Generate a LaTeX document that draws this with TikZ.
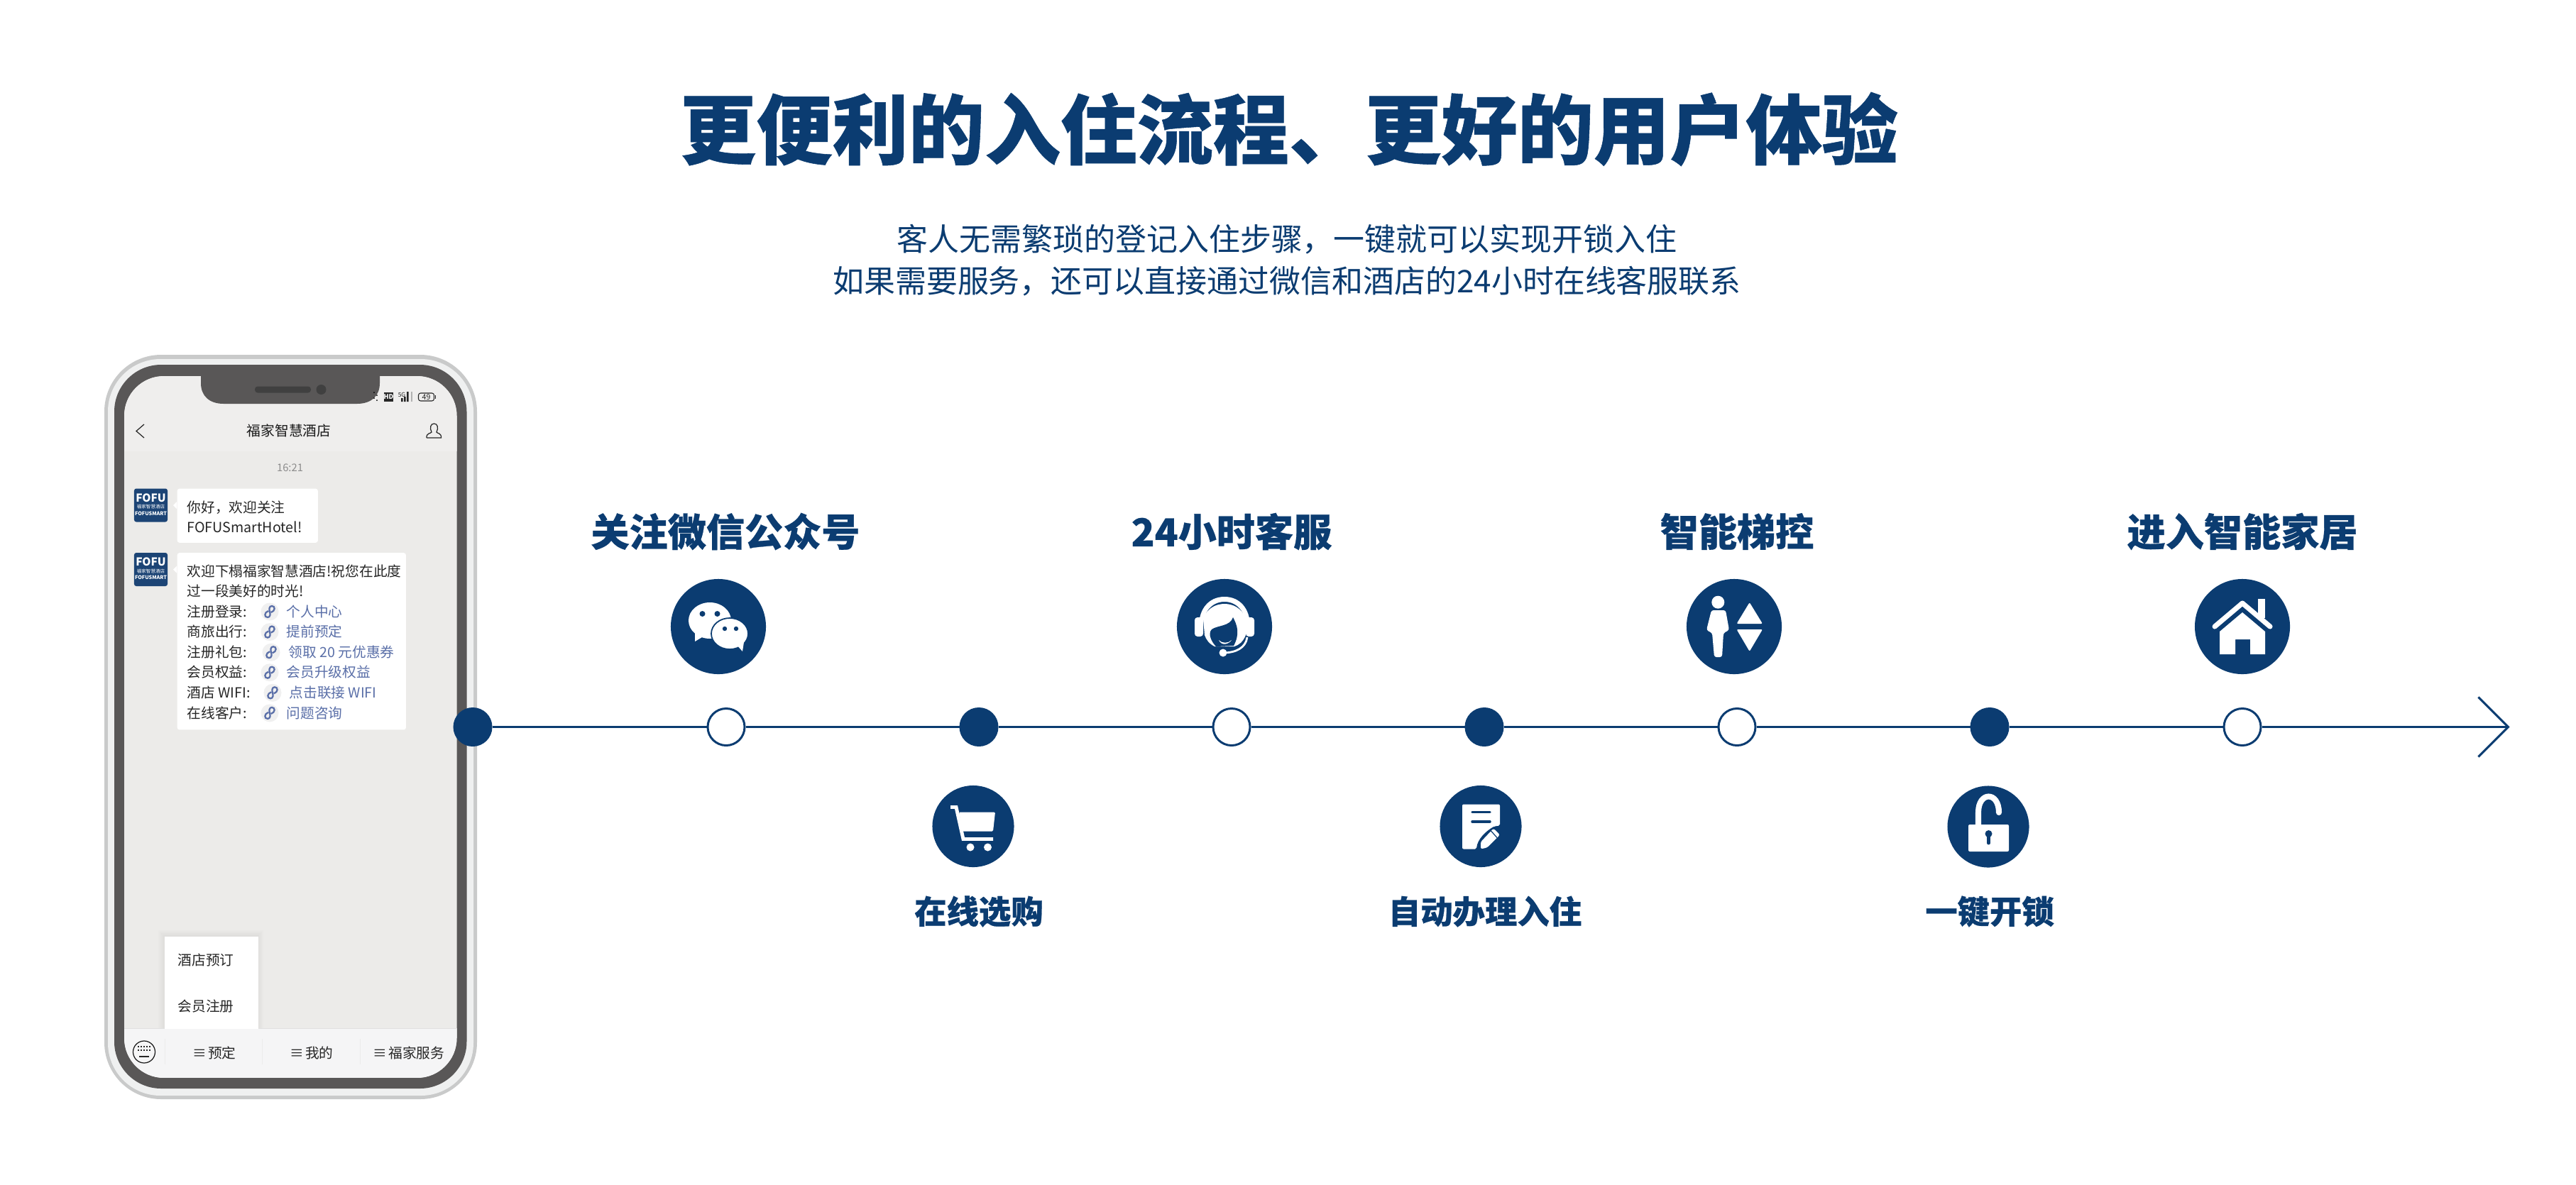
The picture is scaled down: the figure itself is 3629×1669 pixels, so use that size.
\documentclass[tikz,border=0pt]{standalone}
\usepackage{fontspec}
\setmainfont{Noto Sans CJK SC}
\usetikzlibrary{arrows.meta}
\definecolor{navy}{HTML}{0B3C71}
\definecolor{phonedark}{HTML}{595757}
\definecolor{phonering}{HTML}{EFF0F0}
\definecolor{phonerim}{HTML}{C9CACA}
\definecolor{chatbg}{HTML}{ECEBE9}
\definecolor{headbg}{HTML}{EFEEED}
\definecolor{barbg}{HTML}{F5F5F6}
\definecolor{linkblue}{HTML}{5A6FA8}
\definecolor{avatarblue}{HTML}{1C4475}
\newcommand{\sz}[1]{\fontsize{#1}{#1}\selectfont}
\newcommand{\heavy}{\bfseries\addfontfeature{FakeBold=.5}}
\newcommand{\cncomma}{\char"FF0C\relax}
\tikzset{
  stepfull/.style={circle,fill=navy,draw=navy,line width=.85pt,minimum size=.52cm,inner sep=0pt},
  stepopen/.style={circle,fill=white,draw=navy,line width=.85pt,minimum size=.52cm,inner sep=0pt},
  iconup/.style={circle,fill=navy,minimum size=1.34cm,inner sep=0pt},
  icondown/.style={circle,fill=navy,minimum size=1.15cm,inner sep=0pt},
  steplabel/.style={font=\heavy\sz{15.4},text=navy,inner sep=0pt},
  lowlabel/.style={font=\heavy\sz{12.9},text=navy,inner sep=0pt},
  chat/.style={font=\sz{5.6},text=black!85,inner sep=0pt,anchor=west,text height=4.7pt,text depth=.67pt},
  chatlink/.style={chat,text=linkblue},
  linkdisc/.style={circle,fill=black!6,minimum size=.25cm,inner sep=0pt},
  avatar/.style={rectangle,rounded corners=.03cm,fill=avatarblue,minimum size=.47cm,inner sep=0pt},
  avatext/.style={text=white,inner sep=0pt},
  bubble/.style={rectangle,rounded corners=.03cm,fill=white,inner sep=0pt,anchor=north west},
  divider/.style={draw=black!8,line width=.2pt},
  flow/.style={draw=navy,line width=1pt}
}
\newcommand{\linkglyph}{\draw[linkblue,line width=.65pt] (-2,-1) .. controls (-8,1) and (-8,8) .. (-3,8) .. controls (1,8) and (1,3) .. (0,0) .. controls (-1,-3) and (-1,-8) .. (3,-8) .. controls (8,-8) and (8,-1) .. (2,1);}
\begin{document}
\begin{tikzpicture}[x=.01cm,y=-.01cm]
\useasboundingbox (0,0) rectangle (3629,1669);
\fill[white] (0,0) rectangle (3629,1669);

\node (title) [font=\heavy\sz{30.5},text=navy,inner sep=0pt] at (1816,182) {更便利的入住流程、更好的用户体验};
\node (subone) [font=\sz{12.5},text=navy,inner sep=0pt] at (1813,337) {客人无需繁琐的登记入住步骤\cncomma 一键就可以实现开锁入住};
\node (subtwo) [font=\sz{12.5},text=navy,inner sep=0pt] at (1813,396) {如果需要服务\cncomma 还可以直接通过微信和酒店的24小时在线客服联系};

\fill[phonerim,rounded corners=.8cm] (147,500) rectangle (672,1549);
\fill[phonering,rounded corners=.74cm] (152,506) rectangle (667,1544);
\fill[phonedark,rounded corners=.66cm] (161,514) rectangle (657.5,1534);
\begin{scope}
\clip[rounded corners=.56cm] (175,530) rectangle (643.5,1519);
\fill[chatbg] (175,530) rectangle (643.5,1519);
\fill[headbg] (175,530) rectangle (643.5,636);
\foreach \d in {8,6,4,2}
  \fill[black,opacity=.012] (231-\d,1319-\d) rectangle (363+\d,1449+\d);
\fill[barbg] (175,1449) rectangle (643.5,1519);
\draw[black!12,line width=.25pt] (175,1449) -- (643.5,1449);
\end{scope}
\fill[phonedark] (283,520) -- (283,540) .. controls (283,558) and (295,569) .. (315,569) -- (503,569) .. controls (523,569) and (535,558) .. (535,540) -- (535,520) -- cycle;
\fill[black!75,rounded corners=.04cm] (359,544.5) rectangle (438,553.5);
\fill[black!75] (452.5,549) circle (7);

\fill[black] (527,553) circle (1) (531,557) circle (1) (527,561) circle (1) (531,564) circle (1);
\node (hd) [fill=black!85,text=white,font=\bfseries\sz{2.6},minimum width=.13cm,minimum height=.13cm,inner sep=0pt] at (547.5,559.5) {HD};
\node (fiveg) [font=\sz{2.4},text=black!85,inner sep=0pt] at (566,556) {5G};
\fill[black!85] (565,561) rectangle (567.5,566) (569,559) rectangle (571.5,566) (573,552) rectangle (575.5,566);
\draw[black!30,line width=.3pt] (580,552) -- (580,566);
\node (battery) [draw=black!85,line width=.3pt,rounded corners=.03cm,font=\sz{3},text=black!85,minimum width=.22cm,minimum height=.11cm,inner sep=0pt] at (600.5,559.5) {49};
\fill[black!85] (612.5,557) rectangle (613.5,562);

\node (hoteltitle) [font=\sz{5.6},text=black!90,inner sep=0pt] at (407,607) {福家智慧酒店};
\draw[black!85,line width=.35pt] (203,598) -- (192,607.5) -- (203,617);
\draw[black!85,line width=.35pt] (601,617) -- (621.5,617) .. controls (622,610) and (616,611) .. (615,609) .. controls (618,603) and (616.5,597) .. (611.5,597) .. controls (606.5,597) and (605,603) .. (608,609) .. controls (607,611) and (600.5,610) .. (601,617);
\node (clock) [font=\sz{4.2},text=black!45,inner sep=0pt] at (408.5,659) {16:21};

\foreach \nm/\y in {avatarone/712,avatartwo/802.5}{
  \node (\nm) [avatar] at (212.5,\y) {};
  \node (\nm fofu) [avatext,font=\bfseries\sz{4.4}] at (212.5,\y-10.5) {FOFU};
  \node (\nm cn) [avatext,font=\sz{1.85}] at (212.5,\y+2) {福家智慧酒店};
  \node (\nm en) [avatext,font=\bfseries\sz{2.05}] at (212.5,\y+11.5) {FOFUSMART};
  \fill[white] (249,\y-5) -- (244,\y) -- (249,\y+5) -- cycle;
}
\node (bubbleone) [bubble,minimum width=1.98cm,minimum height=.76cm] at (249,688) {};
\node (bubbletwo) [bubble,minimum width=3.22cm,minimum height=2.49cm] at (249,778.5) {};
\node (greetone) [chat] at (263,715) {你好\cncomma 欢迎关注};
\node (greettwo) [chat] at (263,743.5) {FOFUSmartHotel!};
\node (welcomeone) [chat] at (263,805) {欢迎下榻福家智慧酒店!祝您在此度};
\node (welcometwo) [chat] at (263,833.5) {过一段美好的时光!};

\foreach \rw/\y/\ix/\tx/\lab/\lnk in {
  a/862/380/403/注册登录:/个人中心,
  b/890.6/380/403/商旅出行:/提前预定,
  c/919.2/382/406/注册礼包:/领取 20 元优惠券,
  d/947.7/380/403/会员权益:/会员升级权益,
  e/976.3/384/407/酒店 WIFI:/点击联接 WIFI,
  f/1004.9/380/403/在线客户:/问题咨询}{
  \node (lab\rw) [chat] at (263,\y) {\lab};
  \node (disc\rw) [linkdisc] at (\ix,\y) {};
  \begin{scope}[shift={(disc\rw)}]\linkglyph\end{scope}
  \node (lnk\rw) [chatlink] at (\tx,\y) {\lnk};
}

\node (popup) [rectangle,fill=white,minimum width=1.32cm,minimum height=1.3cm,inner sep=0pt,anchor=north west] at (231,1319) {};
\node (popone) [chat] at (250,1353) {酒店预订};
\node (poptwo) [chat] at (250,1418) {会员注册};

\node (keyboard) [circle,draw=black!90,line width=.35pt,minimum size=.31cm,inner sep=0pt] at (203,1482.5) {};
\foreach \kx in {195,199,203,207,211}{
  \fill[black!85] (\kx-1,1473.5) rectangle (\kx+1,1476);
  \fill[black!85] (\kx-1,1478.5) rectangle (\kx+1,1481);
}
\fill[black!85] (196,1487.5) rectangle (210,1490);
\foreach \dx in {232,369,507}
  \draw[divider] (\dx,1464) -- (\dx,1500);
\node (menuone) [font=\sz{5.6},text=black!85,inner sep=0pt] at (302,1483.5) {≡\hspace{.1em}预定};
\node (menutwo) [font=\sz{5.6},text=black!85,inner sep=0pt] at (439,1483.5) {≡\hspace{.1em}我的};
\node (menuthree) [font=\sz{5.6},text=black!85,inner sep=0pt] at (576,1483.5) {≡\hspace{.1em}福家服务};

\node (s0) [stepfull] at (666,1024.5) {};
\node (s1) [stepopen] at (1023,1024.5) {};
\node (s2) [stepfull] at (1379,1024.5) {};
\node (s3) [stepopen] at (1735,1024.5) {};
\node (s4) [stepfull] at (2091,1024.5) {};
\node (s5) [stepopen] at (2447,1024.5) {};
\node (s6) [stepfull] at (2803,1024.5) {};
\node (s7) [stepopen] at (3159,1024.5) {};
\coordinate (tip) at (3535.5,1024.5);
\path[flow]
(s0) edge (s1)
(s1) edge (s2)
(s2) edge (s3)
(s3) edge (s4)
(s4) edge (s5)
(s5) edge (s6)
(s6) edge (s7);
\path[flow,-{Straight Barb[length=.42cm,width=.84cm,line width=.85pt]}]
(s7) edge (tip);

\node (wechat) [iconup] at (1012,883) {};
\node (headset) [iconup] at (1725,883) {};
\node (lift) [iconup] at (2443,883) {};
\node (house) [iconup] at (3159,883) {};
\node (cart) [icondown] at (1371,1164.5) {};
\node (form) [icondown] at (2086,1164.5) {};
\node (lock) [icondown] at (2801,1165) {};

\node (labwechat) [steplabel] at (1022,749) {关注微信公众号};
\node (labservice) [steplabel] at (1735,749) {24小时客服};
\node (lablift) [steplabel] at (2447,749) {智能梯控};
\node (labhome) [steplabel] at (3159,749) {进入智能家居};
\node (labshop) [lowlabel] at (1379,1284.5) {在线选购};
\node (labcheckin) [lowlabel] at (2092,1284.5) {自动办理入住};
\node (labunlock) [lowlabel] at (2803,1284.5) {一键开锁};

\begin{scope}[shift={(wechat)}]
\fill[white] (-12,-8.5) ellipse (30 and 25.5);
\fill[white] (-33,4) -- (-33,21) -- (-18,12) -- cycle;
\fill[navy] (-22.5,-18) circle (4) (-1.5,-18) circle (4);
\fill[white,draw=navy,line width=.5pt] (16,10) ellipse (26 and 22);
\fill[white] (26,26) -- (34,35) -- (36,22) -- cycle;
\fill[navy] (9,3) circle (3.2) (25,3) circle (3.2);
\end{scope}

\begin{scope}[shift={(headset)}]
\fill[white] (-36,-1) .. controls (-36,-25) and (-22,-42) .. (0,-42) .. controls (22,-42) and (36,-25) .. (36,-1) -- (30,-1) .. controls (30,-20) and (18,-35) .. (0,-35) .. controls (-18,-35) and (-30,-20) .. (-30,-1) -- cycle;
\fill[white,rounded corners=.04cm] (-42,-13) rectangle (-30,14);
\fill[white,rounded corners=.04cm] (30,-13) rectangle (42,14);
\fill[white] (-30,-12) .. controls (-24,-26) and (-12,-32) .. (0,-32) .. controls (12,-32) and (24,-26) .. (30,-12) -- (30,12) .. controls (26,22) and (20,26) .. (14,28) -- (-14,28) .. controls (-22,24) and (-26,18) .. (-28,12) -- cycle;
\fill[navy] (-18,4) .. controls (-10,-2) and (8,0) .. (12,-13) .. controls (18,-2) and (22,10) .. (13,27) -- (-12,28) .. controls (-18,22) and (-24,10) .. (-18,4) -- cycle;
\fill[white] (-8,19) .. controls (-4,24) and (6,24) .. (10,19) .. controls (6,25) and (-4,28) .. (-8,19) -- cycle;
\draw[white,line width=.8pt] (32,15) .. controls (30,30) and (16,37) .. (-2,37);
\fill[white] (-2,37) circle (5.5);
\end{scope}

\begin{scope}[shift={(lift)}]
\fill[white] (-22.7,-34.3) circle (9);
\fill[white,rounded corners=.03cm] (-32,-23) -- (-12,-23) -- (-7,5) -- (-15,9) -- (-17,43) -- (-28,43) -- (-31,9) -- (-39,5) -- cycle;
\fill[white,rounded corners=.02cm] (21.7,-34) -- (40,-4) -- (3.5,-4) -- cycle;
\fill[white,rounded corners=.02cm] (21.7,35) -- (40,4) -- (3.5,4) -- cycle;
\end{scope}

\begin{scope}[shift={(house)}]
\draw[white,line width=2pt,line cap=round,line join=round] (-39,0) -- (0,-33) -- (39,0);
\fill[white] (21.7,-39) rectangle (32.3,-12);
\fill[white] (0,-20) -- (-32,7) -- (-32,39) -- (-10,39) -- (-10,18) -- (11,18) -- (11,39) -- (32,39) -- (32,7) -- cycle;
\end{scope}

\begin{scope}[shift={(cart)}]
\draw[white,line width=1.4pt] (-32,-27) -- (-24,-27) -- (-14,18) -- (28,18);
\fill[white,rounded corners=.015cm] (-20,-20) -- (31,-20) -- (28,7) -- (-15,7) -- cycle;
\fill[white] (-4,29.5) circle (5.5) (20.5,29.5) circle (5.5);
\end{scope}

\begin{scope}[shift={(form)}]
\fill[white,rounded corners=.02cm] (-26,-31) -- (27,-31) -- (27,-1) -- (19,0) .. controls (8,6) and (-5,18) .. (-6,32) -- (-26,32) -- cycle;
\draw[navy,line width=1pt,line cap=round] (-12,-20) -- (13,-20) (-12,-6.5) -- (13,-6.5);
\fill[white,rounded corners=.025cm] (0,32) -- (0,22) -- (18,3) -- (27,12) -- (9,30) -- cycle;
\draw[navy,line width=.35pt] (14,6) -- (23,16);
\end{scope}

\begin{scope}[shift={(lock)}]
\fill[white,rounded corners=.02cm] (-28,-3) rectangle (29,35);
\draw[white,line width=2.3pt,line cap=round] (-14,-3) -- (-14,-20) .. controls (-14,-50) and (15,-50) .. (15,-20);
\fill[navy] (0.5,10) circle (5);
\draw[navy,line width=1.4pt,line cap=round] (0.5,10) -- (0.5,23);
\end{scope}
\end{tikzpicture}
\end{document}
